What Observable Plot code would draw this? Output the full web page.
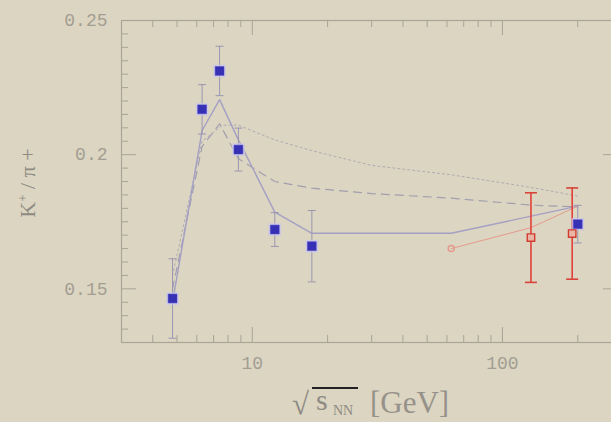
<!DOCTYPE html>
<html><head><meta charset="utf-8">
<script src="https://cdn.jsdelivr.net/npm/d3@7"></script>
<script src="https://cdn.jsdelivr.net/npm/@observablehq/plot@0.6"></script>
<style>
html,body{margin:0;padding:0;background:#dcd5c1;overflow:hidden}
#chart svg{display:block}
</style></head><body><div id="chart"></div>
<script>
// --- measured data (blue filled squares) ---
const energy   = [4.8, 6.3, 7.4, 8.8, 12.3, 17.3, 200];
const ratio    = [0.1464, 0.2169, 0.2312, 0.2019, 0.1721, 0.1659, 0.1741];
const ratioErr = [0.0148, 0.0092, 0.0092, 0.0080, 0.0063, 0.0133, 0.0070];
// --- red open squares ---
const rhicEnergy = [130, 190];
const rhicRatio  = [0.1691, 0.1706];
const rhicErr    = [0.0167, 0.0170];
// --- red thin line with open circle ---
const redEnergy = [62.4, 130, 200];
const redRatio  = [0.1650, 0.1728, 0.1808];
// --- model curves ---
const solidEnergy  = [4.8, 6.3, 7.4, 8.8, 12.3, 17.3, 62.4, 200];
const solidRatio   = [0.145, 0.209, 0.2205, 0.2055, 0.1786, 0.1707, 0.1707, 0.1808];
const dashedEnergy = [4.8, 6.3, 7.4, 8.8, 12.3, 17.3, 30, 62.4, 130, 200];
const dashedRatio  = [0.150, 0.203, 0.2115, 0.1985, 0.1900, 0.1875, 0.1855, 0.1838, 0.1812, 0.1805];
const dottedEnergy = [4.8, 6.3, 7.6, 8.8, 12.3, 17.3, 30, 62.4, 130, 200];
const dottedRatio  = [0.155, 0.205, 0.2110, 0.2110, 0.2055, 0.2015, 0.1960, 0.1925, 0.1878, 0.1846];
// --- ticks ---
const xMajor = [10, 100];
const xMinor = [4, 5, 6, 7, 8, 9, 20, 30, 40, 50, 60, 70, 80, 90, 200];
const xTickLabels = ["10", "100"];
const yMajor = [0.15, 0.2, 0.25];
const yMinor = [0.135, 0.14, 0.145, 0.155, 0.16, 0.165, 0.17, 0.175, 0.18, 0.185, 0.19, 0.195,
                0.205, 0.21, 0.215, 0.22, 0.225, 0.23, 0.235, 0.24, 0.245];
const yTickLabels = ["0.15", "0.2", "0.25"];

const blue = energy.map((e, i) => ({e, r: ratio[i], lo: ratio[i] - ratioErr[i], hi: ratio[i] + ratioErr[i]}));
const red = rhicEnergy.map((e, i) => ({e, r: rhicRatio[i], lo: rhicRatio[i] - rhicErr[i], hi: rhicRatio[i] + rhicErr[i]}));
const solid = solidEnergy.map((e, i) => ({e, r: solidRatio[i]}));
const dashed = dashedEnergy.map((e, i) => ({e, r: dashedRatio[i]}));
const dotted = dottedEnergy.map((e, i) => ({e, r: dottedRatio[i]}));
const redLine = redEnergy.map((e, i) => ({e, r: redRatio[i]}));

const W = 611, H = 422, mL = 121, mR = -7, mT = 20, mB = 80;
const FW = W - mR - mL, FH = H - mT - mB;
const axisCol = "#a9a497";
const cap = {draw(ctx, size) { const w = Math.sqrt(size / Math.PI); ctx.moveTo(-w, 0); ctx.lineTo(w, 0); }};

const svg = Plot.plot({
  width: W, height: H, marginLeft: mL, marginRight: mR, marginTop: mT, marginBottom: mB,
  style: {background: "transparent", overflow: "hidden"},
  x: {type: "log", domain: [3, 291], axis: null},
  y: {domain: [0.13, 0.25], axis: null},
  marks: [
    Plot.frame({stroke: axisCol, strokeWidth: 1.2}),
    // ticks (inward) on all four sides
    Plot.tickX(xMajor, {x: d => d, stroke: axisCol, insetTop: FH - 15}),
    Plot.tickX(xMajor, {x: d => d, stroke: axisCol, insetBottom: FH - 15}),
    Plot.tickX(xMinor, {x: d => d, stroke: axisCol, insetTop: FH - 7}),
    Plot.tickX(xMinor, {x: d => d, stroke: axisCol, insetBottom: FH - 7}),
    Plot.tickY(yMajor, {y: d => d, stroke: axisCol, insetRight: FW - 15}),
    Plot.tickY(yMajor, {y: d => d, stroke: axisCol, insetLeft: FW - 15}),
    Plot.tickY(yMinor, {y: d => d, stroke: axisCol, insetRight: FW - 7}),
    Plot.tickY(yMinor, {y: d => d, stroke: axisCol, insetLeft: FW - 7}),
    // tick labels
    Plot.text(xMajor, {x: d => d, text: (d, i) => xTickLabels[i], frameAnchor: "bottom", dy: 21,
      lineAnchor: "middle", fontSize: 18, fontFamily: "Liberation Mono", fill: "#a29e93"}),
    Plot.text(yMajor, {y: d => d, text: (d, i) => yTickLabels[i], frameAnchor: "left", dx: -14,
      textAnchor: "end", fontSize: 18, fontFamily: "Liberation Mono", fill: "#a29e93"}),
    // model curves
    Plot.line(dotted, {x: "e", y: "r", stroke: "#aeaab4", strokeWidth: 1, strokeDasharray: "2,3"}),
    Plot.line(dashed, {x: "e", y: "r", stroke: "#a19fb0", strokeWidth: 1.2, strokeDasharray: "8,6"}),
    Plot.line(solid, {x: "e", y: "r", stroke: "#a4a0c4", strokeWidth: 1.4}),
    Plot.line(redLine, {x: "e", y: "r", stroke: "#e49a8c", strokeWidth: 1}),
    Plot.dot(redLine.slice(0, 1), {x: "e", y: "r", r: 3, stroke: "#e49a8c", fill: "none"}),
    // blue error bars
    Plot.ruleX(blue, {x: "e", y1: "lo", y2: "hi", stroke: "#9a97b0", strokeWidth: 1}),
    Plot.dot(blue, {x: "e", y: "lo", symbol: cap, r: 4, stroke: "#9a97b0", strokeWidth: 1}),
    Plot.dot(blue, {x: "e", y: "hi", symbol: cap, r: 4, stroke: "#9a97b0", strokeWidth: 1}),
    // red error bars
    Plot.ruleX(red, {x: "e", y1: "lo", y2: "hi", stroke: "#e0413a", strokeWidth: 1.6}),
    Plot.dot(red, {x: "e", y: "lo", symbol: cap, r: 6, stroke: "#d8433a", strokeWidth: 1.6}),
    Plot.dot(red, {x: "e", y: "hi", symbol: cap, r: 6, stroke: "#d8433a", strokeWidth: 1.6}),
    // squares
    Plot.dot(blue, {x: "e", y: "r", symbol: "square", r: 7, fill: "#c9c6ec", fillOpacity: 0.8}),
    Plot.dot(blue, {x: "e", y: "r", symbol: "square", r: 5, fill: "#3630b4", stroke: "#4a44c8", strokeWidth: 0.5}),
    Plot.dot(red, {x: "e", y: "r", symbol: "square", r: 4.2, fill: "#e9b6a6", stroke: "#d23a30", strokeWidth: 1.4})
  ]
});

const s = d3.select(svg);
// x-axis title: sqrt(s_NN) [GeV]
const xt = s.append("g").attr("font-family", "Liberation Serif").attr("fill", "#8e8b84")
  .attr("text-anchor", "start");
xt.append("text").attr("x", 292).attr("y", 414).attr("font-size", 31).text("√");
xt.append("text").attr("x", 316).attr("y", 410).attr("font-size", 30).text("s");
xt.append("text").attr("x", 333).attr("y", 415).attr("font-size", 14).text("NN");
xt.append("text").attr("x", 370).attr("y", 413).attr("font-size", 31).attr("fill", "#96928a").text("[GeV]");
s.append("line").attr("x1", 312).attr("x2", 358).attr("y1", 388).attr("y2", 388)
  .attr("stroke", "#222").attr("stroke-width", 1.8);
// y-axis title: K+/pi+
const yt = s.append("text").attr("transform", "translate(35,183) rotate(-90)")
  .attr("text-anchor", "middle").attr("font-family", "Liberation Serif").attr("font-size", 22)
  .attr("fill", "#8e8b84");
yt.append("tspan").text("K");
yt.append("tspan").attr("font-size", 13).attr("dy", -8).text("+");
yt.append("tspan").attr("dy", 8).text(" / π +");

document.getElementById("chart").appendChild(svg);
</script>
</body></html>
